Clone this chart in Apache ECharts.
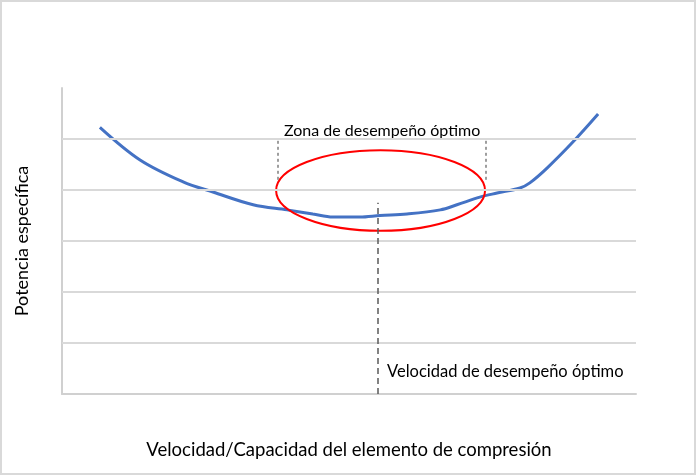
<!DOCTYPE html>
<html lang="es">
<head>
<meta charset="UTF-8">
<title>Potencia específica</title>
<script src="https://cdn.jsdelivr.net/npm/echarts@6/dist/echarts.min.js"></script>
<style>
    html, body { margin: 0; padding: 0; background: #fff; }
    #container { width: 696px; height: 475px; box-sizing: border-box; border: 2px solid #d9d9d9; }
</style>
</head>
<body>
<div id="container"></div>
<script type="text/javascript">
    // curva de potencia (x: velocidad relativa 0-100, y: potencia 0-6)
    var curveX = [6.6, 13.6, 21.1, 26.3, 33.3, 39.2, 43.7, 47.2, 51.9, 55.4, 60.1, 65.9, 68.8, 72.8, 75.8, 79.8, 81.5, 84.5, 89.0, 93.4];
    var curveY = [5.23, 4.59, 4.16, 3.96, 3.71, 3.61, 3.53, 3.47, 3.47, 3.50, 3.53, 3.61, 3.71, 3.86, 3.94, 4.04, 4.14, 4.43, 4.94, 5.49];
    // líneas de la rejilla
    var gridTicks = [1, 2, 3, 4, 5];
    // zona óptima: límites y elipse [cx, cy, rx, ry]
    var zoneBounds = [37.6, 73.9];
    var zoneLineRange = [4.2, 4.98];
    var zoneEllipse = [55.5, 3.99, 18.2, 0.79];
    // velocidad óptima
    var optimumX = 55.05;
    var optimumTop = 3.75;

    var font = 'Lato';
    var dom = document.getElementById('container');
    var myChart = echarts.init(dom, null, { renderer: 'canvas' });

    var zoneLines = zoneBounds.map(function (x) {
        return [{ coord: [x, zoneLineRange[0]] }, { coord: [x, zoneLineRange[1]] }];
    });

    var option = {
        animation: false,
        textStyle: { fontFamily: font },
        grid: { left: 60, right: 58, top: 86, bottom: 79, outerBoundsMode: 'none', containLabel: false },
        xAxis: {
            type: 'value',
            min: 0,
            max: 100,
            name: 'Velocidad/Capacidad del elemento de compresión',
            nameLocation: 'middle',
            nameGap: 47,
            nameTextStyle: { fontSize: 18.5, color: '#000', fontFamily: font },
            axisLine: { show: true, lineStyle: { color: '#d0d0d0', width: 2 } },
            axisTick: { show: false },
            axisLabel: { show: false },
            splitLine: { show: false }
        },
        yAxis: {
            type: 'value',
            min: 0,
            max: 6,
            interval: 1,
            name: 'Potencia específica',
            nameLocation: 'middle',
            nameGap: 31,
            nameTextStyle: { fontSize: 18, color: '#000', fontFamily: font },
            axisLine: { show: true, lineStyle: { color: '#d0d0d0', width: 2 } },
            axisTick: { show: false },
            axisLabel: { show: false },
            splitLine: { show: false }
        },
        series: [
            {
                // rejilla y líneas de referencia
                type: 'line',
                data: [],
                silent: true,
                markLine: {
                    silent: true,
                    symbol: 'none',
                    label: { show: false },
                    animation: false,
                    data: gridTicks.map(function (v) {
                        return { yAxis: v, lineStyle: { color: '#d9d9d9', width: 2, type: 'solid' } };
                    })
                }
            },
            {
                type: 'line',
                data: [],
                silent: true,
                markLine: {
                    silent: true,
                    symbol: 'none',
                    label: { show: false },
                    lineStyle: { color: '#7f7f7f', width: 1.5, type: [3, 3] },
                    data: zoneLines
                }
            },
            {
                type: 'line',
                data: [],
                silent: true,
                markLine: {
                    silent: true,
                    symbol: 'none',
                    label: { show: false },
                    lineStyle: { color: '#595959', width: 1.5, type: [6, 4] },
                    data: [[{ coord: [optimumX, 0] }, { coord: [optimumX, optimumTop] }]]
                }
            },
            {
                name: 'Potencia',
                type: 'line',
                smooth: 0.35,
                showSymbol: false,
                lineStyle: { color: '#4472c4', width: 3 },
                data: curveX.map(function (x, i) { return [x, curveY[i]]; }),
                z: 3
            },
            {
                type: 'custom',
                silent: true,
                clip: false,
                data: [zoneEllipse],
                encode: { x: 0, y: 1 },
                renderItem: function (params, api) {
                    var c = api.coord([api.value(0), api.value(1)]);
                    var s = api.size([api.value(2), api.value(3)]);
                    return {
                        type: 'ellipse',
                        shape: { cx: c[0], cy: c[1], rx: s[0], ry: s[1] },
                        style: { fill: 'none', stroke: '#ff0000', lineWidth: 2 }
                    };
                },
                z: 4
            }
        ],
        graphic: [
            {
                type: 'text',
                left: 282,
                top: 121,
                style: { text: 'Zona de desempeño óptimo', fill: '#000', font: '16px ' + font }
            },
            {
                type: 'text',
                left: 385,
                top: 361,
                style: { text: 'Velocidad de desempeño óptimo', fill: '#000', font: '16.5px ' + font }
            }
        ]
    };
    myChart.setOption(option);
    window.addEventListener('resize', myChart.resize);
</script>
</body>
</html>
